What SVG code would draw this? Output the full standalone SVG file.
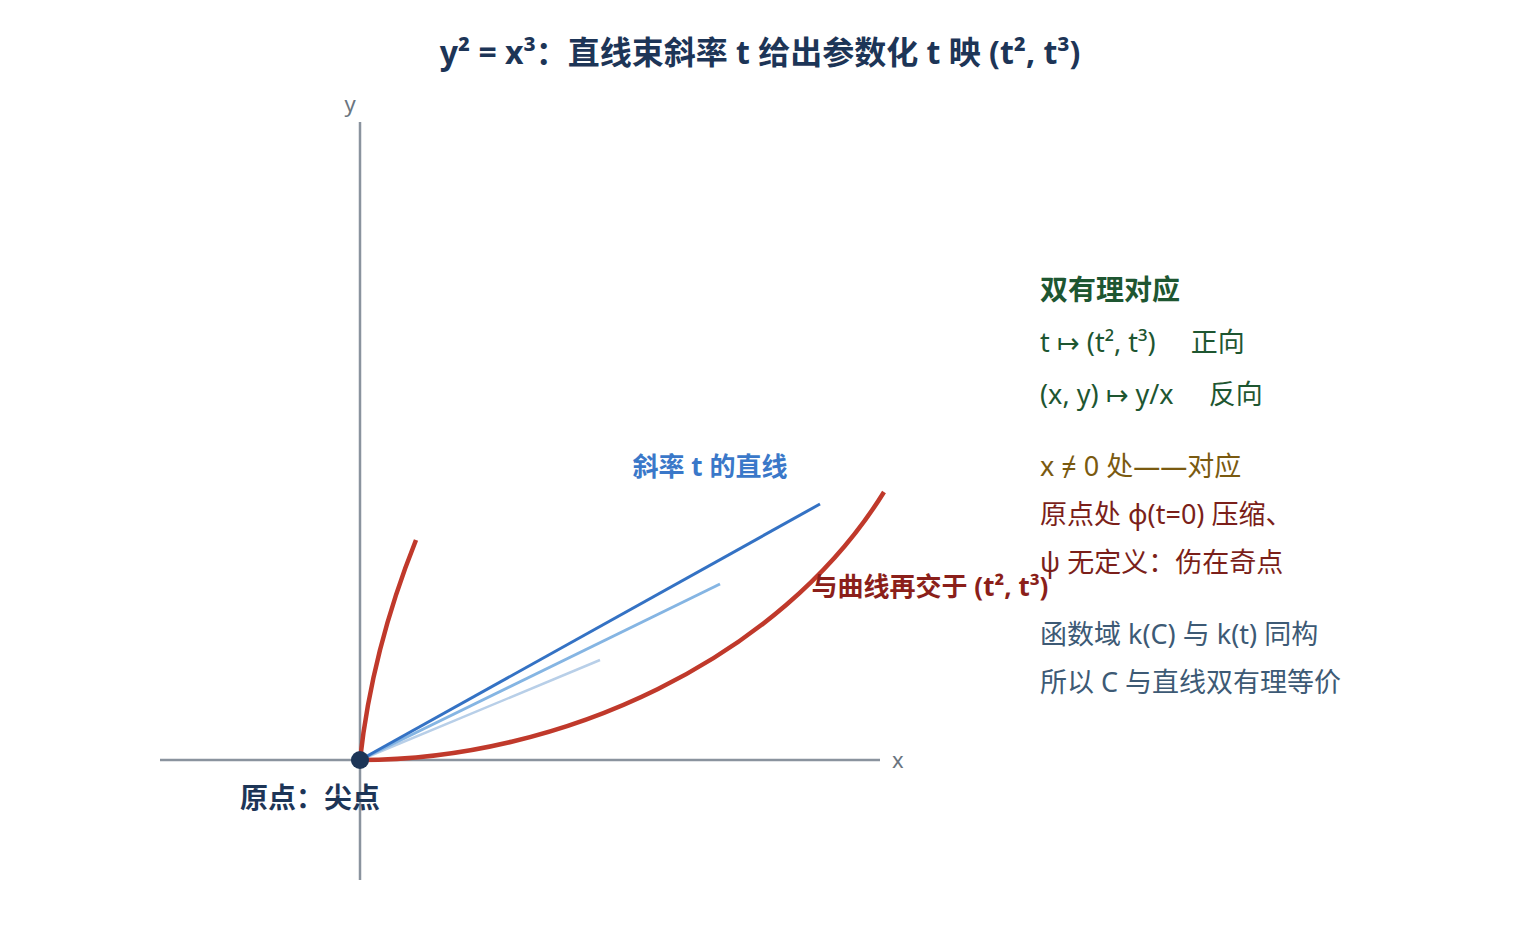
<svg xmlns="http://www.w3.org/2000/svg" width="1520" height="940" viewBox="0 0 1520 940">
<style>
text{font-family:"Noto Sans","Noto Sans CJK SC",sans-serif}
.t{font-size:32px;font-weight:bold;fill:#1d3557}
.ax{stroke:#8a939e;stroke-width:2.5;fill:none}
.axl{font-size:22px;fill:#6b7580}
.curve{stroke:#c0392b;stroke-width:4.5;fill:none;stroke-linecap:butt}
.r{font-size:26px}
.s{font-size:27px}
.b{font-weight:bold}
</style>
<rect width="1520" height="940" fill="#ffffff"/>
<text class="t" x="760" y="64" text-anchor="middle">y² = x³：直线束斜率 t 给出参数化 t 映 (t², t³)</text>
<g id="axes">
<line class="ax" x1="160" y1="760" x2="880" y2="760"/>
<line class="ax" x1="360" y1="122" x2="360" y2="880"/>
<text class="axl" x="350" y="112" text-anchor="middle">y</text>
<text class="axl" x="892" y="768">x</text>
</g>
<g id="lines">
<line x1="360" y1="760" x2="600" y2="660" stroke="#b8cfe8" stroke-width="2.5"/>
<line x1="360" y1="760" x2="720" y2="584" stroke="#85b5e3" stroke-width="3"/>
<line x1="360" y1="760" x2="820" y2="504" stroke="#3472c4" stroke-width="3"/>
</g>
<g id="curve">
<path class="curve" d="M360 760 Q372 650 416 540"/>
<path class="curve" d="M360 760 C560 760 780 660 884 492"/>
</g>
<g id="origin">
<circle cx="360" cy="760" r="9" fill="#1d3557"/>
<text class="b" font-size="28" x="310" y="808" text-anchor="middle" fill="#1d3557">原点：尖点</text>
</g>
<g id="line-label">
<text class="r b" x="710" y="476" text-anchor="middle" fill="#3a78c9">斜率 t 的直线</text>
</g>
<g id="intersect-label">
<text class="r b" x="930" y="596" text-anchor="middle" fill="#8b1f1a">与曲线再交于 (t², t³)</text>
</g>
<g id="birational">
<text x="1040" y="300" font-size="28" font-weight="bold" fill="#1e5631">双有理对应</text>
<text class="s" x="1040" y="352" fill="#1e5631" xml:space="preserve">t ↦ (t², t³)     正向</text>
<text class="s" x="1040" y="404" fill="#1e5631" xml:space="preserve">(x, y) ↦ y/x     反向</text>
</g>
<g id="notes">
<text class="s" x="1040" y="476" fill="#7a5a10">x ≠ 0 处——对应</text>
<text class="s" x="1040" y="524" fill="#7b1f1a">原点处 φ(t=0) 压缩、</text>
<text class="s" x="1040" y="572" fill="#7b1f1a">ψ 无定义：伤在奇点</text>
<text class="s" x="1040" y="644" fill="#3d5a75">函数域 k(C) 与 k(t) 同构</text>
<text class="s" x="1040" y="692" fill="#3d5a75">所以 C 与直线双有理等价</text>
</g>
</svg>
